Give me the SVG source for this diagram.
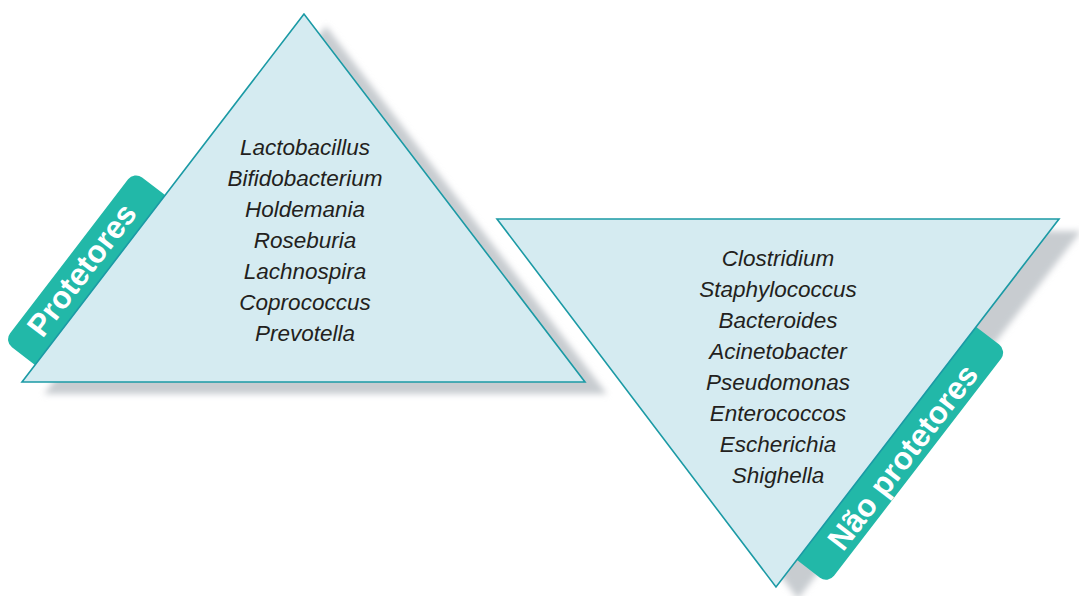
<svg xmlns="http://www.w3.org/2000/svg" width="1079" height="596" viewBox="0 0 1079 596">
  <defs>
    <filter id="soft" x="-10%" y="-10%" width="120%" height="120%">
      <feGaussianBlur stdDeviation="3"/>
    </filter>
  </defs>
  <style>
    .shadow { fill: #c8ccd0; filter: url(#soft); }
    .tri { fill: #d5ebf1; stroke: #1b9aa5; stroke-width: 1.6; stroke-linejoin: miter; }
    .tab { fill: #22b8a8; }
    .tabtext { font-family: "Liberation Sans", Arial, sans-serif; font-weight: bold; font-size: 31.5px; fill: #ffffff; text-anchor: middle; }
    .item { font-family: "Liberation Sans", Arial, sans-serif; font-style: italic; font-size: 22.5px; fill: #231f20; text-anchor: middle; }
  </style>

  <!-- protective group: upward triangle -->
  <g id="protetores">
    <polygon class="shadow" points="326,26 44,394 607,394"/>
    <g transform="translate(35,365) rotate(-52.55)">
      <rect class="tab" x="0" y="-39" width="214" height="51" rx="10"/>
      <text class="tabtext" x="104" y="-10">Protetores</text>
    </g>
    <polygon class="tri" points="304,14 22,382 585,382"/>
    <text class="item" x="305" y="155">Lactobacillus</text>
    <text class="item" x="305" y="186">Bifidobacterium</text>
    <text class="item" x="305" y="217">Holdemania</text>
    <text class="item" x="305" y="248">Roseburia</text>
    <text class="item" x="305" y="279">Lachnospira</text>
    <text class="item" x="305" y="310">Coprococcus</text>
    <text class="item" x="305" y="341">Prevotella</text>
  </g>

  <!-- non-protective group: downward triangle -->
  <g id="nao-protetores">
    <polygon class="shadow" points="519,231 1081,231 798,599"/>
    <g transform="translate(797,560) rotate(-52.44)">
      <rect class="tab" x="0" y="-12" width="294" height="51" rx="10"/>
      <text class="tabtext" x="146" y="32">Não protetores</text>
    </g>
    <polygon class="tri" points="497,219 1059,219 776,587"/>
    <text class="item" x="778" y="266">Clostridium</text>
    <text class="item" x="778" y="297">Staphylococcus</text>
    <text class="item" x="778" y="328">Bacteroides</text>
    <text class="item" x="778" y="359">Acinetobacter</text>
    <text class="item" x="778" y="390">Pseudomonas</text>
    <text class="item" x="778" y="421">Enterococcos</text>
    <text class="item" x="778" y="452">Escherichia</text>
    <text class="item" x="778" y="483">Shighella</text>
  </g>
</svg>
